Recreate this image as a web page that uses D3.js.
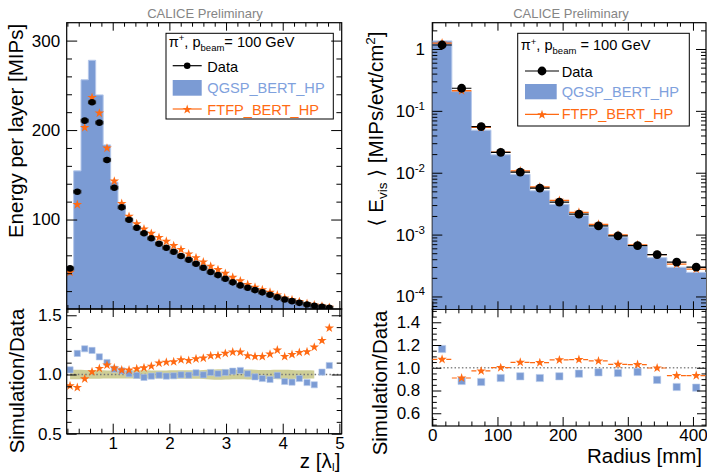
<!DOCTYPE html>
<html>
<head>
<meta charset="utf-8">
<script src="https://cdn.jsdelivr.net/npm/d3@7"></script>
<style>
  body { margin: 0; background: #fff; }
  svg { display: block; font-family: "Liberation Sans", Arial, Helvetica, "DejaVu Sans", sans-serif; }
</style>
</head>
<body>
<svg id="chart" width="707" height="474"></svg>
<script>
// ---------- Longitudinal profile (energy per layer vs depth) ----------
const layerZ = [0.247, 0.375, 0.506, 0.635, 0.764, 0.899, 1.028, 1.159, 1.288, 1.424, 1.552, 1.681,
                1.817, 1.946, 2.076, 2.205, 2.341, 2.470, 2.599, 2.729, 2.858, 2.987, 3.118, 3.252,
                3.382, 3.511, 3.640, 3.776, 3.905, 4.035, 4.164, 4.293, 4.429, 4.557, 4.693, 4.822];
const dataLong = [45.4, 131.1, 210.5, 231.1, 208.3, 166.6, 135.6, 113.6, 99.8, 90.8, 84.6, 79.0,
                  73.0, 68.5, 64.0, 59.2, 55.0, 50.6, 46.1, 41.3, 37.9, 33.8, 29.8, 26.4,
                  23.7, 21.1, 18.6, 15.9, 13.0, 10.7, 8.8, 6.9, 5.1, 3.6, 2.5, 1.3];
const qgspLong = [47.2, 154.4, 256.2, 278.0, 239.3, 183.4, 141.7, 117.1, 100.4, 90.1, 82.5, 77.9,
                  72.6, 67.5, 63.3, 59.0, 54.7, 51.3, 46.0, 42.0, 38.1, 34.4, 30.6, 27.3,
                  23.8, 20.7, 18.0, 15.2, 12.9, 10.1, 8.2, 6.7, 4.8, 3.3, 2.6, 1.4];
const ftfpLong = [41.0, 116.7, 202.7, 236.4, 218.9, 179.8, 142.9, 117.8, 103.5, 95.2, 89.3, 84.5,
                  80.0, 75.6, 70.8, 66.5, 61.5, 57.3, 52.5, 47.8, 44.0, 39.8, 35.4, 31.4,
                  27.4, 24.3, 21.4, 18.6, 15.7, 12.3, 10.3, 8.2, 6.1, 4.4, 3.2, 1.8];
const qgspLongRatio = [1.039, 1.178, 1.217, 1.203, 1.149, 1.101, 1.045, 1.031, 1.006, 0.992, 0.975, 0.986,
                       0.994, 0.986, 0.989, 0.997, 0.994, 1.014, 0.997, 1.017, 1.006, 1.017, 1.028, 1.034,
                       1.006, 0.980, 0.966, 0.958, 0.992, 0.941, 0.935, 0.966, 0.932, 0.913, 1.020, 1.076];
const ftfpLongRatio = [0.904, 0.890, 0.963, 1.023, 1.051, 1.079, 1.054, 1.037, 1.037, 1.048, 1.056, 1.070,
                       1.096, 1.104, 1.107, 1.124, 1.118, 1.132, 1.138, 1.158, 1.161, 1.178, 1.189, 1.189,
                       1.158, 1.152, 1.152, 1.172, 1.206, 1.152, 1.169, 1.186, 1.192, 1.231, 1.287, 1.392];
// relative systematic uncertainty of the data (band around 1 in the ratio)
const dataLongSys = [0.040, 0.040, 0.038, 0.036, 0.035, 0.034, 0.034, 0.034, 0.034, 0.035, 0.035, 0.034,
                     0.034, 0.034, 0.035, 0.035, 0.035, 0.036, 0.038, 0.042, 0.045, 0.043, 0.040, 0.040,
                     0.042, 0.040, 0.038, 0.038, 0.040, 0.040, 0.038, 0.036, 0.035, 0.034, null, null];
const longYTicks = [100, 200, 300];
const longXTicks = [1, 2, 3, 4, 5];
const longRatioTicks = [0.5, 1.0, 1.5];

// ---------- Radial profile ----------
const radiusEdges = [0, 30, 60, 90, 120, 150, 180, 210, 240, 270, 300, 330, 360, 390, 420];
const radiusCenters = [15, 45, 75, 105, 135, 165, 195, 225, 255, 285, 315, 345, 375, 405];
const dataRad = [1.16, 0.232, 0.0556, 0.0214, 0.0102, 0.00562, 0.00334, 0.00214, 0.00138, 0.000955,
                 0.000664, 0.000475, 0.000358, 0.000297];
const qgspRad = [1.351, 0.205, 0.0487, 0.0195, 0.00944, 0.00511, 0.00309, 0.00203, 0.001325, 0.000911,
                 0.000639, 0.000424, 0.000297, 0.000245];
const ftfpRad = [1.246, 0.211, 0.0540, 0.0214, 0.0107, 0.00587, 0.00357, 0.00229, 0.001463, 0.000984,
                 0.000683, 0.000474, 0.000333, 0.000277];
const qgspRadRatio = [1.165, 0.884, 0.875, 0.910, 0.925, 0.910, 0.925, 0.948, 0.960, 0.954, 0.963, 0.893, 0.831, 0.825];
const ftfpRadRatio = [1.074, 0.910, 0.972, 1.001, 1.048, 1.045, 1.069, 1.072, 1.060, 1.030, 1.028, 0.998, 0.931, 0.931];
const radXTicks = [0, 100, 200, 300, 400];
const radYTicks = [1e-4, 1e-3, 1e-2, 1e-1, 1];
const radRatioTicks = [0.6, 0.8, 1.0, 1.2, 1.4];

const legendLabels = ["Data", "QGSP_BERT_HP", "FTFP_BERT_HP"];
const headerText = "CALICE Preliminary";

// ---------- styling ----------
const ORANGE = "#ff6a13";
const BLUE = "#7b9bd4";
const BLUE_EDGE = "#b4c7ea";
const BLUE_TEXT = "#7fa1dd";
const BAND = "#c9c98c";
const TICK_FS = 17;
const TITLE_FS = 20.5;
const LEG_FS = 14.6;

const svg = d3.select("#chart");

// panel frames
const L = { x0: 66.7, x1: 341.7, top: 22.7, mid: 309, bot: 433.7 };
const R = { x0: 432.3, x1: 706, top: 22.7, mid: 309.3, bot: 426 };

const xL = d3.scaleLinear().domain([0.188, 5.041]).range([L.x0, L.x1]);
const yL = d3.scaleLinear().domain([0, 320]).range([L.mid, L.top]);
const yLr = d3.scaleLinear().domain([0.5, 1.553]).range([L.bot, L.mid]);

const xR = d3.scaleLinear().domain([0, 420]).range([R.x0, R.x1]);
const yR = d3.scaleLog().domain([6.2e-5, 2.66]).range([R.mid, R.top]);
const yRr = d3.scaleLinear().domain([0.488, 1.514]).range([R.bot, R.mid]);

const defs = svg.append("defs");
function clipRect(id, x0, y0, x1, y1) {
  defs.append("clipPath").attr("id", id).append("rect")
    .attr("x", x0).attr("y", y0).attr("width", x1 - x0).attr("height", y1 - y0);
  return `url(#${id})`;
}
const clipLT = clipRect("clipLT", L.x0, L.top, L.x1, L.mid);
const clipLB = clipRect("clipLB", L.x0, L.mid, L.x1, L.bot);
const clipRT = clipRect("clipRT", R.x0, R.top, R.x1, R.mid);
const clipRB = clipRect("clipRB", R.x0, R.mid, R.x1, R.bot);

const starPath = d3.symbol(d3.symbolStar, 28)();
const starLeg = d3.symbol(d3.symbolStar, 28)();
const squareSmall = d3.symbol(d3.symbolSquare, 38)();
const squareBig = d3.symbol(d3.symbolSquare, 52)();

function addTicks(tx, ty, gen, scale, values, len, fmt, pad) {
  const a = gen(scale).tickValues(values).tickSize(-len).tickSizeOuter(0)
    .tickPadding(pad || 0).tickFormat(fmt || (() => ""));
  const g = svg.append("g").attr("transform", `translate(${tx},${ty})`).call(a);
  g.attr("font-family", null).attr("font-size", null);
  g.select(".domain").remove();
  g.selectAll(".tick line").attr("stroke", "#000").attr("stroke-width", 1);
  g.selectAll(".tick text").attr("fill", "#000").style("font-size", TICK_FS + "px");
  return g;
}
const notIn = (arr) => (v) => !arr.some(m => Math.abs(m - v) < 1e-9);

// bin edges between layer centres
const layerEdges = layerZ.map((z, i) => i === 0 ? z - (layerZ[1] - z) / 2 : (layerZ[i - 1] + z) / 2);
layerEdges.push(layerZ[layerZ.length - 1] + (layerZ[layerZ.length - 1] - layerZ[layerZ.length - 2]) / 2);
const stepPoints = (edges, vals) => vals.map((v, i) => [edges[i], v]).concat([[edges[edges.length - 1], vals[vals.length - 1]]]);

// ================= LEFT: longitudinal profile =================
const gLT = svg.append("g").attr("clip-path", clipLT);
const histL = stepPoints(layerEdges, qgspLong);
gLT.append("path").datum(histL)
  .attr("d", d3.area().curve(d3.curveStepAfter).x(d => xL(d[0])).y0(L.mid).y1(d => yL(d[1])))
  .attr("fill", BLUE);
gLT.append("path").datum(histL)
  .attr("d", d3.line().curve(d3.curveStepAfter).x(d => xL(d[0])).y(d => yL(d[1])))
  .attr("fill", "none").attr("stroke", BLUE_EDGE).attr("stroke-width", 1);

gLT.selectAll(".ftfpL").data(ftfpLong).join("path")
  .attr("d", starPath).attr("fill", ORANGE)
  .attr("transform", (d, i) => `translate(${xL(layerZ[i])},${yL(d)})`);

const dataL = gLT.selectAll(".dataL").data(dataLong).join("g")
  .attr("transform", (d, i) => `translate(${xL(layerZ[i])},${yL(d)})`);
dataL.append("rect").attr("x", -3.6).attr("y", -2.5).attr("width", 7.2).attr("height", 5)
  .attr("fill", "#555").attr("opacity", 0.55);
dataL.append("path").attr("d", "M-3.6,0H3.6M-3.6,-1.8V1.8M3.6,-1.8V1.8")
  .attr("stroke", "#222").attr("stroke-width", 0.9);
dataL.append("circle").attr("r", 3.3).attr("fill", "#000");

// ratio panel
const gLB = svg.append("g").attr("clip-path", clipLB);
const bandData = layerZ.map((z, i) => ({ z, e: dataLongSys[i] }));
gLB.append("path").datum(bandData)
  .attr("d", d3.area().defined(d => d.e != null).curve(d3.curveMonotoneX)
    .x(d => xL(d.z)).y0(d => yLr(1 - d.e)).y1(d => yLr(1 + d.e)))
  .attr("fill", BAND).attr("opacity", 0.9);
gLB.append("line").attr("x1", L.x0).attr("x2", L.x1).attr("y1", yLr(1)).attr("y2", yLr(1))
  .attr("stroke", "#777").attr("stroke-width", 1.4).attr("stroke-dasharray", "1.5,2.2");
gLB.selectAll(".qL").data(qgspLongRatio).join("path")
  .attr("d", squareSmall).attr("fill", BLUE).attr("stroke", BLUE_EDGE).attr("stroke-width", 0.6)
  .attr("transform", (d, i) => `translate(${xL(layerZ[i])},${yLr(d)})`);
gLB.selectAll(".fL").data(ftfpLongRatio).join("path")
  .attr("d", starPath).attr("fill", ORANGE)
  .attr("transform", (d, i) => `translate(${xL(layerZ[i])},${yLr(d)})`);

// legend (left)
const legL = svg.append("g");
legL.append("rect").attr("x", 166).attr("y", 33.3).attr("width", 167.3).attr("height", 85.7)
  .attr("fill", "#fff").attr("stroke", "#000").attr("stroke-width", 1);
function beamLabel(g, x, y, spaced) {
  const t = g.append("text").attr("x", x).attr("y", y).style("font-size", LEG_FS + "px").attr("fill", "#000");
  t.append("tspan").text("\u03c0");
  t.append("tspan").attr("dy", -5.5).style("font-size", "9.5px").text("+");
  t.append("tspan").attr("dy", 5.5).text(", p");
  t.append("tspan").attr("dy", 4).style("font-size", "9.5px").text("beam");
  t.append("tspan").attr("dy", -4).text(spaced ? " = 100 GeV" : "= 100 GeV");
}
beamLabel(legL, 168.7, 46.7, false);
legL.append("line").attr("x1", 172.7).attr("x2", 201.7).attr("y1", 65.7).attr("y2", 65.7).attr("stroke", "#000").attr("stroke-width", 1.2);
legL.append("circle").attr("cx", 187.2).attr("cy", 65.7).attr("r", 3.3).attr("fill", "#000");
legL.append("text").attr("x", 207.3).attr("y", 71.5).style("font-size", LEG_FS + "px").text(legendLabels[0]);
legL.append("rect").attr("x", 172.7).attr("y", 80).attr("width", 29).attr("height", 15.7).attr("fill", BLUE);
legL.append("text").attr("x", 207.3).attr("y", 93.3).style("font-size", LEG_FS + "px").attr("fill", BLUE_TEXT).text(legendLabels[1]);
legL.append("line").attr("x1", 172.7).attr("x2", 201.7).attr("y1", 109).attr("y2", 109).attr("stroke", ORANGE).attr("stroke-width", 1.2);
legL.append("path").attr("d", starLeg).attr("fill", ORANGE).attr("transform", "translate(187.2,109.5)");
legL.append("text").attr("x", 207.3).attr("y", 115).style("font-size", LEG_FS + "px").attr("fill", ORANGE).text(legendLabels[2]);

// frames
[[L.x0, L.top, L.x1, L.mid], [L.x0, L.mid, L.x1, L.bot], [R.x0, R.top, R.x1, R.mid], [R.x0, R.mid, R.x1, R.bot]]
  .forEach(([x0, y0, x1, y1]) => svg.append("rect").attr("x", x0).attr("y", y0)
    .attr("width", x1 - x0).attr("height", y1 - y0).attr("fill", "none").attr("stroke", "#000").attr("stroke-width", 1.2));

// left ticks
const minorYL = d3.range(20, 320, 20).filter(notIn(longYTicks));
const minorXL = d3.range(0.2, 5.04, 0.2).filter(notIn(longXTicks));
addTicks(L.x0, 0, d3.axisLeft, yL, longYTicks, 10.5, d3.format("d"), 6.5);
addTicks(L.x0, 0, d3.axisLeft, yL, minorYL, 5.3);
addTicks(L.x1, 0, d3.axisRight, yL, longYTicks, 10.5);
addTicks(L.x1, 0, d3.axisRight, yL, minorYL, 5.3);
addTicks(0, L.top, d3.axisTop, xL, longXTicks, 8);
addTicks(0, L.top, d3.axisTop, xL, minorXL, 4);
addTicks(0, L.mid, d3.axisBottom, xL, longXTicks, 8);
addTicks(0, L.mid, d3.axisBottom, xL, minorXL, 4);

const minorYLr = d3.range(0.6, 1.55, 0.1).filter(notIn(longRatioTicks));
addTicks(L.x0, 0, d3.axisLeft, yLr, longRatioTicks, 10, d3.format(".1f"), 5);
addTicks(L.x0, 0, d3.axisLeft, yLr, minorYLr, 5);
addTicks(L.x1, 0, d3.axisRight, yLr, longRatioTicks, 10);
addTicks(L.x1, 0, d3.axisRight, yLr, minorYLr, 5);
addTicks(0, L.mid, d3.axisTop, xL, longXTicks, 8);
addTicks(0, L.mid, d3.axisTop, xL, minorXL, 4);
addTicks(0, L.bot, d3.axisBottom, xL, longXTicks, 10, d3.format("d"), 3.5);
addTicks(0, L.bot, d3.axisBottom, xL, minorXL, 5);

// ================= RIGHT: radial profile =================
const gRT = svg.append("g").attr("clip-path", clipRT);
const histR = stepPoints(radiusEdges, qgspRad);
gRT.append("path").datum(histR)
  .attr("d", d3.area().curve(d3.curveStepAfter).x(d => xR(d[0])).y0(R.mid).y1(d => yR(d[1])))
  .attr("fill", BLUE);
gRT.append("path").datum(histR)
  .attr("d", d3.line().curve(d3.curveStepAfter).x(d => xR(d[0])).y(d => yR(d[1])))
  .attr("fill", "none").attr("stroke", BLUE_EDGE).attr("stroke-width", 1);

gRT.selectAll(".fRl").data(ftfpRad).join("line")
  .attr("x1", (d, i) => xR(radiusEdges[i])).attr("x2", (d, i) => xR(radiusEdges[i + 1]))
  .attr("y1", d => yR(d)).attr("y2", d => yR(d)).attr("stroke", ORANGE).attr("stroke-width", 1.4);
gRT.selectAll(".fRs").data(ftfpRad).join("path")
  .attr("d", starPath).attr("fill", ORANGE)
  .attr("transform", (d, i) => `translate(${xR(radiusCenters[i])},${yR(d)})`);
gRT.selectAll(".dRl").data(dataRad).join("line")
  .attr("x1", (d, i) => xR(radiusEdges[i])).attr("x2", (d, i) => xR(radiusEdges[i + 1]))
  .attr("y1", d => yR(d)).attr("y2", d => yR(d)).attr("stroke", "#000").attr("stroke-width", 1.2);
gRT.selectAll(".dRc").data(dataRad).join("circle")
  .attr("cx", (d, i) => xR(radiusCenters[i])).attr("cy", d => yR(d)).attr("r", 4.4).attr("fill", "#000");

const gRB = svg.append("g").attr("clip-path", clipRB);
gRB.append("line").attr("x1", R.x0).attr("x2", R.x1).attr("y1", yRr(1)).attr("y2", yRr(1))
  .attr("stroke", "#888").attr("stroke-width", 1.4).attr("stroke-dasharray", "1.5,2.2");
gRB.selectAll(".qR").data(qgspRadRatio).join("path")
  .attr("d", squareBig).attr("fill", BLUE).attr("stroke", BLUE_EDGE).attr("stroke-width", 0.6)
  .attr("transform", (d, i) => `translate(${xR(radiusCenters[i])},${yRr(d)})`);
gRB.selectAll(".fRrl").data(ftfpRadRatio).join("line")
  .attr("x1", (d, i) => xR(radiusEdges[i])).attr("x2", (d, i) => xR(radiusEdges[i + 1]))
  .attr("y1", d => yRr(d)).attr("y2", d => yRr(d)).attr("stroke", ORANGE).attr("stroke-width", 1.2)
  .attr("stroke-dasharray", "5,2");
gRB.selectAll(".fRr").data(ftfpRadRatio).join("path")
  .attr("d", starPath).attr("fill", ORANGE)
  .attr("transform", (d, i) => `translate(${xR(radiusCenters[i])},${yRr(d)})`);

// legend (right)
const legR = svg.append("g");
legR.append("rect").attr("x", 517.7).attr("y", 33.3).attr("width", 171.6).attr("height", 92.7)
  .attr("fill", "#fff").attr("stroke", "#000").attr("stroke-width", 1);
beamLabel(legR, 520.7, 50, true);
legR.append("line").attr("x1", 525).attr("x2", 559).attr("y1", 71).attr("y2", 71).attr("stroke", "#000").attr("stroke-width", 1.2);
legR.append("circle").attr("cx", 542).attr("cy", 71).attr("r", 4.4).attr("fill", "#000");
legR.append("text").attr("x", 561.7).attr("y", 76.5).style("font-size", LEG_FS + "px").text(legendLabels[0]);
legR.append("rect").attr("x", 525).attr("y", 84).attr("width", 31.7).attr("height", 15.3).attr("fill", BLUE);
legR.append("text").attr("x", 561.7).attr("y", 97).style("font-size", LEG_FS + "px").attr("fill", BLUE_TEXT).text(legendLabels[1]);
legR.append("line").attr("x1", 525).attr("x2", 559).attr("y1", 114.3).attr("y2", 114.3).attr("stroke", ORANGE).attr("stroke-width", 1.2);
legR.append("path").attr("d", starLeg).attr("fill", ORANGE).attr("transform", "translate(542,114.8)");
legR.append("text").attr("x", 561.7).attr("y", 118.5).style("font-size", LEG_FS + "px").attr("fill", ORANGE).text(legendLabels[2]);

// right ticks
const minorYR = [];
for (let e = -5; e <= 0; e++) for (let k = 2; k <= 9; k++) {
  const v = k * Math.pow(10, e);
  if (v > yR.domain()[0] && v < yR.domain()[1]) minorYR.push(v);
}
const minorXR = d3.range(20, 420, 20).filter(notIn(radXTicks));
addTicks(R.x0, 0, d3.axisLeft, yR, radYTicks, 10);
addTicks(R.x0, 0, d3.axisLeft, yR, minorYR, 5);
addTicks(R.x1, 0, d3.axisRight, yR, radYTicks, 10);
addTicks(R.x1, 0, d3.axisRight, yR, minorYR, 5);
addTicks(0, R.top, d3.axisTop, xR, radXTicks, 8);
addTicks(0, R.top, d3.axisTop, xR, minorXR, 4);
addTicks(0, R.mid, d3.axisBottom, xR, radXTicks, 8);
addTicks(0, R.mid, d3.axisBottom, xR, minorXR, 4);

radYTicks.forEach(v => {
  const e = Math.round(Math.log10(v));
  const t = svg.append("text").attr("x", R.x0 - 7.3).attr("y", yR(v) + 6)
    .attr("text-anchor", "end").style("font-size", TICK_FS + "px");
  if (e === 0) t.text("1");
  else {
    t.append("tspan").text("10");
    t.append("tspan").attr("dy", -7).style("font-size", "11.5px").text(String(e));
  }
});

const minorYRr = d3.range(0.5, 1.51, 0.05).filter(notIn(radRatioTicks));
addTicks(R.x0, 0, d3.axisLeft, yRr, radRatioTicks, 9, d3.format(".1f"), 12);
addTicks(R.x0, 0, d3.axisLeft, yRr, minorYRr, 4.5);
addTicks(R.x1, 0, d3.axisRight, yRr, radRatioTicks, 9);
addTicks(R.x1, 0, d3.axisRight, yRr, minorYRr, 4.5);
addTicks(0, R.mid, d3.axisTop, xR, radXTicks, 8);
addTicks(0, R.mid, d3.axisTop, xR, minorXR, 4);
addTicks(0, R.bot, d3.axisBottom, xR, radXTicks, 9, d3.format("d"), 3.3);
addTicks(0, R.bot, d3.axisBottom, xR, minorXR, 4.5);

// ================= titles =================
svg.append("text").attr("x", 205).attr("y", 18.3).attr("text-anchor", "middle")
  .style("font-size", "13px").attr("fill", "#858585").text(headerText);
svg.append("text").attr("x", 571).attr("y", 18.3).attr("text-anchor", "middle")
  .style("font-size", "13px").attr("fill", "#858585").text(headerText);

function vTitle(x, y) {
  return svg.append("text").attr("transform", `translate(${x},${y}) rotate(-90)`)
    .attr("text-anchor", "middle").style("font-size", TITLE_FS + "px");
}
vTitle(23.3, 131).text("Energy per layer [MIPs]");
vTitle(24, 381).text("Simulation/Data");
vTitle(387, 383).text("Simulation/Data");

const tR = vTitle(382.7, 129);
tR.append("tspan").text("\u27e8 E");
tR.append("tspan").attr("dy", 4.5).style("font-size", "13.5px").text("vis");
tR.append("tspan").attr("dy", -4.5).text(" \u27e9 [MIPs/evt/cm");
tR.append("tspan").attr("dy", -8).style("font-size", "13.5px").text("2");
tR.append("tspan").attr("dy", 8).text("]");

const tz = svg.append("text").attr("x", 340.5).attr("y", 467.5).attr("text-anchor", "end")
  .style("font-size", TITLE_FS + "px");
tz.append("tspan").text("z [\u03bb");
tz.append("tspan").attr("dy", 3).style("font-size", "11px").text("I");
tz.append("tspan").attr("dy", -3).text("]");

svg.append("text").attr("x", 702).attr("y", 462.5).attr("text-anchor", "end")
  .style("font-size", TITLE_FS + "px").text("Radius [mm]");
</script>
</body>
</html>
